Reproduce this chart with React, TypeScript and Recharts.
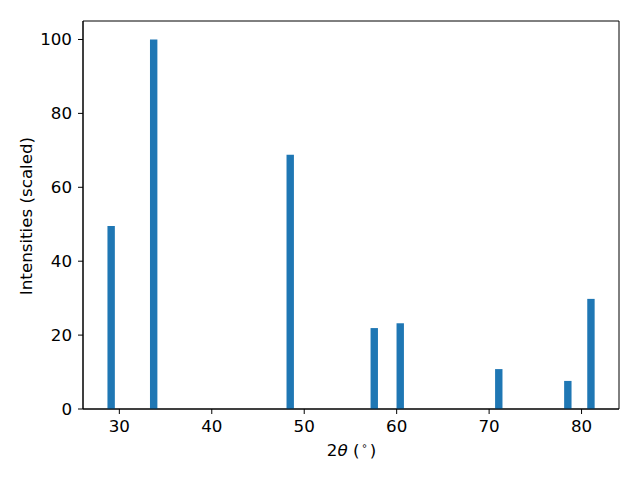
import React from 'react';
import { BarChart, Bar, XAxis, YAxis, ReferenceArea, Label } from 'recharts';

// 2θ peak positions (degrees) and scaled intensities
const twoTheta = [29.1, 33.7, 48.47, 57.56, 60.37, 71.03, 78.5, 81.0];
const intensities = [49.5, 100, 68.8, 21.9, 23.2, 10.8, 7.6, 29.8];
const xTicks = [30, 40, 50, 60, 70, 80];
const yTicks = [0, 20, 40, 60, 80, 100];

const FONT = '"DejaVu Sans", sans-serif';
const FS = 16.7;

export default function App() {
  const data = twoTheta.map((t, i) => ({ x: t, y: intensities[i] }));
  const tickStyle = { fill: '#000', fontSize: FS, fontFamily: FONT };

  return (
    <div style={{ position: 'absolute', left: 0, top: 0, width: 640, height: 480, background: '#fff' }}>
      <BarChart width={640} height={480} data={data} margin={{ top: 21, right: 21, bottom: 21, left: 23 }}>
        <XAxis
          dataKey="x"
          type="number"
          domain={[26.07, 84.05]}
          ticks={xTicks}
          allowDataOverflow
          height={50}
          stroke="#000"
          tickSize={5}
          tickMargin={6}
          tick={tickStyle}
        >
          <Label
            content={() => (
              <text x={351.5} y={456} textAnchor="middle" fontFamily={FONT} fontSize={FS} fill="#000">
                <tspan>2</tspan>
                <tspan fontStyle="italic">θ</tspan>
                <tspan> (</tspan>
                <tspan fontSize={10} dx={2} dy={-7}>∘</tspan>
                <tspan dx={2} dy={7}>)</tspan>
              </text>
            )}
          />
        </XAxis>
        <YAxis
          type="number"
          domain={[0, 105]}
          ticks={yTicks}
          allowDataOverflow
          width={60}
          stroke="#000"
          tickSize={5}
          tickMargin={6}
          tick={tickStyle}
        >
          <Label
            content={() => (
              <text
                x={26}
                y={216}
                textAnchor="middle"
                dominantBaseline="central"
                transform="rotate(-90 26 216)"
                fontFamily={FONT}
                fontSize={FS}
                fill="#000"
              >
                Intensities (scaled)
              </text>
            )}
          />
        </YAxis>
        <Bar dataKey="y" fill="#1f77b4" barSize={7.4} isAnimationActive={false} />
        <ReferenceArea x1={26.07} x2={84.05} y1={0} y2={105} fill="none" stroke="#000" strokeWidth={1} ifOverflow="visible" />
      </BarChart>
    </div>
  );
}
